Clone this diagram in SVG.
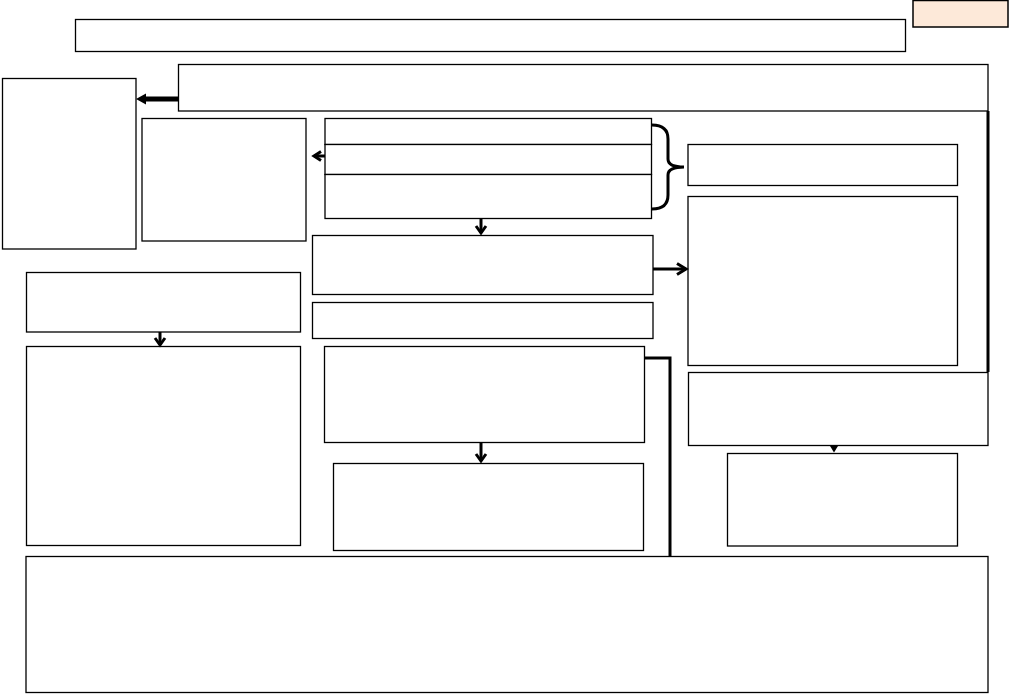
<svg xmlns="http://www.w3.org/2000/svg" width="1009" height="694" viewBox="0 0 1009 694">
<style>
.box{fill:#ffffff;stroke:#000000;stroke-width:1.3}
.tag{fill:#fde9d9;stroke:#000000;stroke-width:1.5}
.thick{fill:none;stroke:#000000;stroke-width:3;stroke-linecap:butt;stroke-linejoin:miter}
.heavy{fill:none;stroke:#000000;stroke-width:5}
.head{fill:#000000;stroke:none}
</style>
<rect width="1009" height="694" fill="#ffffff"/>
<g id="tag"><rect class="tag" x="913" y="0.5" width="95" height="26.5"/></g>
<g id="title"><rect class="box" x="75.5" y="19.5" width="830" height="32"/></g>
<g id="header"><rect class="box" x="178.5" y="64.5" width="809.5" height="46.5"/></g>
<g id="left-top"><rect class="box" x="2.5" y="78.5" width="133.5" height="170.5"/></g>
<g id="left-mid"><rect class="box" x="142" y="118.5" width="164" height="122.5"/></g>
<g id="stack">
<rect class="box" x="325" y="118.5" width="326.5" height="26"/>
<rect class="box" x="325" y="144.5" width="326.5" height="30"/>
<rect class="box" x="325" y="174.5" width="326.5" height="44"/>
</g>
<g id="right-a"><rect class="box" x="688" y="144.5" width="269.5" height="41"/></g>
<g id="right-b"><rect class="box" x="688" y="196.5" width="269.5" height="169"/></g>
<g id="center-1"><rect class="box" x="312.5" y="235.5" width="340.5" height="59"/></g>
<g id="center-2"><rect class="box" x="312.5" y="302.5" width="340.5" height="36"/></g>
<g id="center-3"><rect class="box" x="324.5" y="346.5" width="320" height="96"/></g>
<g id="center-4"><rect class="box" x="333.5" y="463.5" width="310" height="87"/></g>
<g id="left-b1"><rect class="box" x="26.5" y="272.5" width="274" height="59.5"/></g>
<g id="left-b2"><rect class="box" x="26.5" y="346.5" width="274" height="199"/></g>
<g id="right-c"><rect class="box" x="688.5" y="372.5" width="299.5" height="73"/></g>
<g id="right-d"><rect class="box" x="727.5" y="453.5" width="230" height="92.5"/></g>
<g id="bottom"><rect class="box" x="26" y="556.5" width="962" height="136"/></g>
<g id="connectors">
<line class="heavy" x1="178" y1="99" x2="143" y2="99"/>
<polygon class="head" points="136,99 146,93.5 146,104.5"/>
<polyline class="thick" points="321,151.5 314,156 321,160.5"/>
<line class="thick" x1="314" y1="156" x2="325" y2="156"/>
<path class="thick" d="M652,125 Q668,125 668,139 L668,159 Q668,167 684,167 Q668,167 668,175 L668,195 Q668,209 652,209"/>
<line class="thick" x1="481" y1="218.5" x2="481" y2="233"/>
<polyline class="thick" points="476,226 481,233 486,226"/>
<line class="thick" x1="653" y1="269" x2="686" y2="269"/>
<polyline class="thick" points="677,263.5 686,269 677,274.5"/>
<line class="thick" x1="988" y1="111" x2="988" y2="372"/>
<line class="thick" x1="160" y1="332" x2="160" y2="345"/>
<polyline class="thick" points="155,338 160,345 165,338"/>
<polyline class="thick" points="645,358 670,358 670,556"/>
<line class="thick" x1="481" y1="442.5" x2="481" y2="461"/>
<polyline class="thick" points="476,454 481,461 486,454"/>
<polygon class="head" points="830,446 838,446 834,452.5"/>
</g>
</svg>
